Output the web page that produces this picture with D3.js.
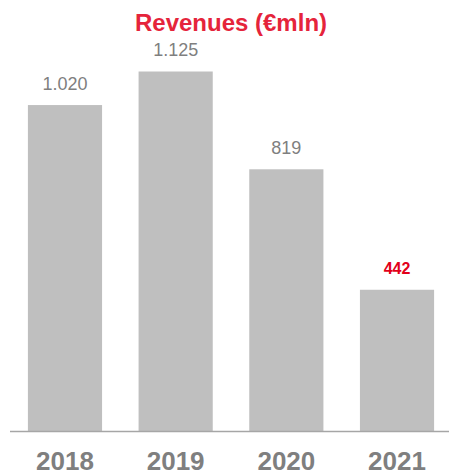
<!DOCTYPE html>
<html>
<head>
<meta charset="utf-8">
<script src="https://cdn.jsdelivr.net/npm/d3@7"></script>
<style>
  body { margin: 0; background: #fff; }
  text { font-family: "Liberation Sans", Arial, sans-serif; }
</style>
</head>
<body>
<div id="root"></div>
<script>
const years = ["2018", "2019", "2020", "2021"];
const revenues = [1020, 1125, 819, 442];
const valueLabels = ["1.020", "1.125", "819", "442"];
const highlight = [false, false, false, true];

const outerWidth = 449;
const outerHeight = 476;
const baseline = 431;

let svg = d3.select("#root")
            .append("svg")
            .attr("width", outerWidth)
            .attr("height", outerHeight);

let scaleX = d3.scaleBand()
               .domain(years)
               .range([9.65, 452.35])
               .paddingInner(0.33)
               .paddingOuter(0.165);

let scaleY = d3.scaleLinear().domain([0, 1125]).range([baseline, 71.5]);

svg.append("text")
   .attr("x", 231)
   .attr("y", 30.5)
   .attr("text-anchor", "middle")
   .style("font-weight", "bold")
   .style("font-size", "24px")
   .style("fill", "#e5243b")
   .text("Revenues (€mln)");

svg.selectAll(".bar")
   .data(revenues)
   .enter().append("rect")
   .attr("class", "bar")
   .attr("x", (d, i) => scaleX(years[i]))
   .attr("y", d => scaleY(d))
   .attr("width", scaleX.bandwidth())
   .attr("height", d => baseline - scaleY(d))
   .attr("fill", "#bfbfbf");

svg.selectAll(".val")
   .data(revenues)
   .enter().append("text")
   .attr("class", "val")
   .attr("x", (d, i) => scaleX(years[i]) + scaleX.bandwidth() / 2)
   .attr("y", d => scaleY(d) - 15.5)
   .attr("text-anchor", "middle")
   .style("font-size", (d, i) => highlight[i] ? "16px" : "18px")
   .style("font-weight", (d, i) => highlight[i] ? "bold" : "normal")
   .style("fill", (d, i) => highlight[i] ? "#e2001a" : "#7f7f7f")
   .text((d, i) => valueLabels[i]);

let xAxis = d3.axisBottom(scaleX).tickSize(0).tickPadding(25);

let axisG = svg.append("g")
   .attr("class", "x axis")
   .attr("transform", `translate(0, ${baseline})`)
   .call(xAxis);

axisG.select(".domain").remove();
axisG.append("line")
   .attr("x1", 10).attr("x2", 449)
   .attr("y1", 0.5).attr("y2", 0.5)
   .attr("stroke", "#a6a6a6")
   .attr("stroke-width", 1.5);

axisG.selectAll(".tick text")
   .attr("dy", 0)
   .attr("y", 39)
   .style("font-family", "'Liberation Sans', Arial, sans-serif")
   .style("font-size", "26px")
   .style("font-weight", "bold")
   .style("fill", "#7f7f7f");
</script>
</body>
</html>
